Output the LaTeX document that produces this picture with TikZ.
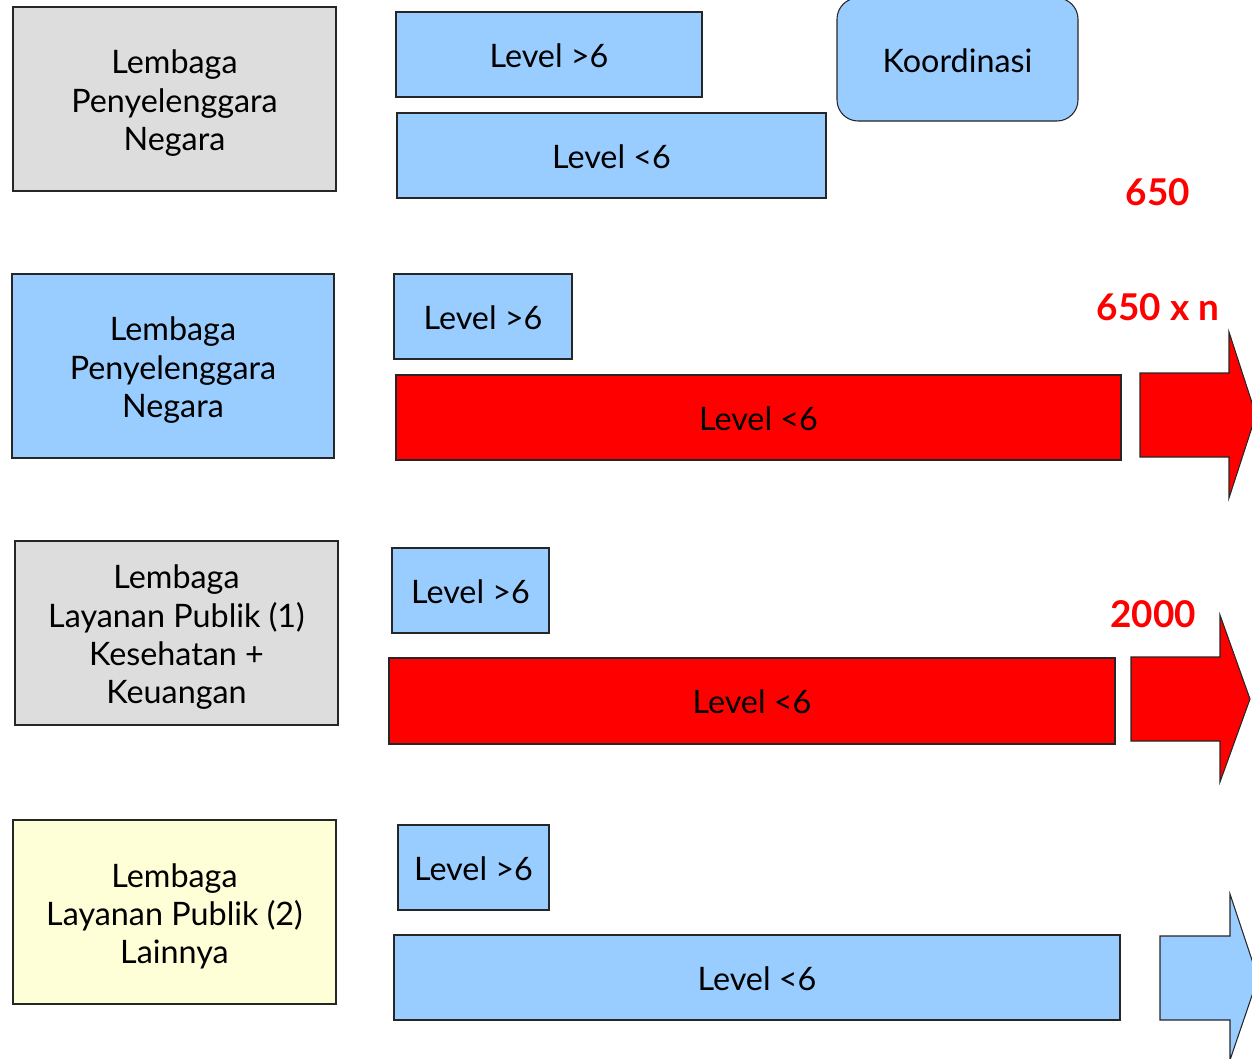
\documentclass[tikz,border=0pt]{standalone}
\usepackage{fontspec}
\setmainfont{Lato}
\definecolor{abu}{HTML}{DDDDDD}
\definecolor{biru}{HTML}{99CCFF}
\definecolor{kuning}{HTML}{FFFFD7}
\definecolor{merah}{HTML}{FF0000}
\tikzset{
	kotak/.style = {draw=black!85, line width=0.6pt},
	isi/.style = {align=center, yshift=-0.6pt, font=\fontsize{18.4}{21.8}\selectfont},
	lembaga/.style = {isi, yshift=-1.8pt},
	angka/.style = {text=merah, font=\fontsize{21}{25}\selectfont\bfseries}
}
\begin{document}
\begin{tikzpicture}[x=0.02cm, y=-0.02cm]
		\useasboundingbox (0,0) rectangle (1252,1059);
		% baris 1
		\draw [kotak, fill=abu] (13,7) rectangle (336,191) node[lembaga, midway] (lpn1) {Lembaga\\Penyelenggara\\Negara};
		\draw [kotak, fill=biru] (396,12) rectangle (702,97) node[isi, midway] (atas1) {Level >6};
		\draw [kotak, fill=biru] (397,113) rectangle (826,198) node[isi, midway] (bawah1) {Level <6};
		\draw [kotak, fill=biru, rounded corners=12] (837,-2) rectangle (1078,121) node[isi, midway] (koord) {Koordinasi};
		\node [angka] (n1) at (1158,192) {650};
		% baris 2
		\draw [kotak, fill=biru] (12,274) rectangle (334,458) node[lembaga, midway] (lpn2) {Lembaga\\Penyelenggara\\Negara};
		\draw [kotak, fill=biru] (394,274) rectangle (572,359) node[isi, midway] (atas2) {Level >6};
		\draw [kotak, fill=merah] (396,375) rectangle (1121,460) node[isi, midway] (bawah2) {Level <6};
		\node [angka] (n2) at (1158,307) {650 x n};
		\draw [kotak, fill=merah] (1140,373) -- (1229,373) -- (1229,332) -- (1256,415) -- (1229,498) -- (1229,457) -- (1140,457) -- cycle;
		% baris 3
		\draw [kotak, fill=abu] (15,541) rectangle (338,725) node[lembaga, midway] (llp1) {Lembaga\\Layanan Publik (1)\\Kesehatan +\\Keuangan};
		\draw [kotak, fill=biru] (392,548) rectangle (549,633) node[isi, midway] (atas3) {Level >6};
		\draw [kotak, fill=merah] (389,658) rectangle (1115,744) node[isi, midway] (bawah3) {Level <6};
		\node [angka] (n3) at (1153,614) {2000};
		\draw [kotak, fill=merah] (1131,657) -- (1220,657) -- (1220,615) -- (1250,699) -- (1220,782) -- (1220,741) -- (1131,741) -- cycle;
		% baris 4
		\draw [kotak, fill=kuning] (13,820) rectangle (336,1004) node[lembaga, midway] (llp2) {Lembaga\\Layanan Publik (2)\\Lainnya};
		\draw [kotak, fill=biru] (398,825) rectangle (549,910) node[isi, midway] (atas4) {Level >6};
		\draw [kotak, fill=biru] (394,935) rectangle (1120,1020) node[isi, midway] (bawah4) {Level <6};
		\draw [kotak, fill=biru] (1160,936) -- (1230,936) -- (1230,894) -- (1258,978) -- (1230,1060) -- (1230,1020) -- (1160,1020) -- cycle;
	\end{tikzpicture}
\end{document}
